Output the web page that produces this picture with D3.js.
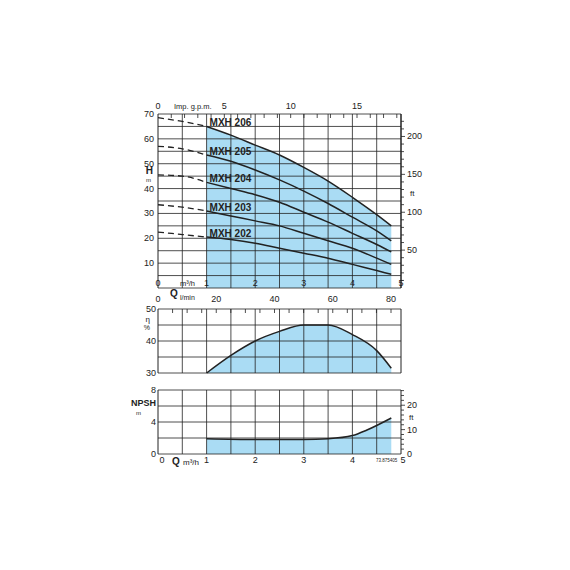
<!DOCTYPE html><html><head><meta charset="utf-8"><script src="https://cdn.jsdelivr.net/npm/d3@7"></script>
<style>body{margin:0;background:#fff}text{font-family:"Liberation Sans",Arial,sans-serif;fill:#222}</style></head><body>
<svg id="c" width="570" height="570"></svg>
<script>
const qPts=[0,0.5,1,1.5,2,2.5,3,3.5,4,4.5,4.8];
const models=["MXH 206","MXH 205","MXH 204","MXH 203","MXH 202"];
const head206=[68.5,67,65,61.5,57.5,53.5,48.5,43,36.5,29.5,25];
const head205=[57,56,53.5,51,47.5,43.5,39,34,28.5,23,19];
const head204=[45.5,45,42.5,40,37.5,34.5,30.5,26.5,22,17.5,14.5];
const head203=[33.5,32.5,31,29,27,25,22,19,16,12,9.5];
const head202=[22.5,21.5,20.5,19.5,18,16,14,12,9.5,7,5.5];
const effQ=[1,1.5,2,2.5,3,3.5,4,4.5,4.8];
const effV=[30,35.5,40,43,45,45,42,37,31.5];
const npshQ=[1,2,3,3.5,4,4.3,4.8];
const npshV=[1.9,1.8,1.8,1.9,2.3,3,4.5];
const qTicks=[1,2,3,4,5];
const gpmTicks=[0,5,10,15];
const lminTicks=[0,20,40,60,80];
const ftTicks=[50,100,150,200];
const npshFtTicks=[0,10,20];

const svg=d3.select("#c");
const x=d3.scaleLinear([0,5],[158,401]);
const yH=d3.scaleLinear([0,70],[288,114]);
const yE=d3.scaleLinear([30,50],[373,309]);
const yN=d3.scaleLinear([0,8],[454,390]);
const fill="#aadcf4",g="#222";
function panel(y,gridStep,lo,hi){
  const grp=svg.append("g");
  for(let v=0;v<=5.001;v+=0.5)grp.append("line").attr("x1",x(v)).attr("x2",x(v)).attr("y1",y(lo)).attr("y2",y(hi)).attr("stroke",g).attr("stroke-width",v==0||v==5?1:0.8);
  for(let v=lo;v<=hi+1e-6;v+=gridStep)grp.append("line").attr("x1",x(0)).attr("x2",x(5)).attr("y1",y(v)).attr("y2",y(v)).attr("stroke",g).attr("stroke-width",0.8);
  return grp;
}
function shade(xs,ys,y,base){
  const a=d3.area().x((d,i)=>x(xs[i])).y0(y(base)).y1((d,i)=>y(ys[i])).curve(d3.curveMonotoneX);
  svg.append("path").attr("d",a(xs)).attr("fill",fill);
}
const i1=qPts.indexOf(1);
shade(qPts.slice(i1),head206.slice(i1),yH,0);
panel(yH,5,0,70);
const heads=[head206,head205,head204,head203,head202];
const line=d3.line().curve(d3.curveMonotoneX);
heads.forEach((h,k)=>{
  const pts=qPts.map((q,i)=>[x(q),yH(h[i])]);
  svg.append("path").attr("d",line(pts.slice(0,i1+1))).attr("fill","none").attr("stroke",g).attr("stroke-width",1.3).attr("stroke-dasharray","6,4");
  svg.append("path").attr("d",line(pts.slice(i1))).attr("fill","none").attr("stroke",g).attr("stroke-width",1.5);
  svg.append("text").attr("x",x(1)+3).attr("y",yH(h[i1])).attr("font-size",10).attr("font-weight","bold").text(models[k]);
});
[10,20,30,40,50,60,70].forEach(v=>svg.append("text").attr("x",154).attr("y",yH(v)+3).attr("text-anchor","end").attr("font-size",9).text(v));
svg.append("text").attr("x",153).attr("y",yH(46.5)+2).attr("text-anchor","end").attr("font-size",10).attr("font-weight","bold").text("H");
svg.append("text").attr("x",151).attr("y",yH(43.6)+2).attr("text-anchor","end").attr("font-size",6).text("m");
const ft=d3.scaleLinear([0,230],[288,288-230*0.3048*2.4857]);
svg.append("line").attr("x1",401).attr("x2",401).attr("y1",114).attr("y2",288).attr("stroke",g);
for(let v=10;v<=220;v+=10)svg.append("line").attr("x1",401).attr("x2",v%50==0?405:404).attr("y1",ft(v)).attr("y2",ft(v)).attr("stroke",g).attr("stroke-width",0.8);
ftTicks.forEach(v=>svg.append("text").attr("x",407).attr("y",ft(v)+3).attr("font-size",9).text(v));
svg.append("text").attr("x",410).attr("y",ft(125)+3).attr("font-size",8).text("ft");
const gpm=d3.scaleLinear([0,15],[158,357]);
for(let v=1;v<=18;v++)svg.append("line").attr("x1",gpm(v)).attr("x2",gpm(v)).attr("y1",114).attr("y2",118).attr("stroke",g).attr("stroke-width",0.8);
gpmTicks.forEach(v=>svg.append("text").attr("x",gpm(v)).attr("y",109).attr("text-anchor","middle").attr("font-size",9).text(v));
svg.append("text").attr("x",174).attr("y",109).attr("font-size",7.5).text("Imp. g.p.m.");
[0,...qTicks].forEach(v=>svg.append("text").attr("x",x(v)).attr("y",286).attr("text-anchor","middle").attr("font-size",9).text(v));
svg.append("text").attr("x",180).attr("y",286).attr("font-size",7.5).text("m³/h");
svg.append("text").attr("x",170).attr("y",297).attr("font-size",10).attr("font-weight","bold").text("Q");
const lm=d3.scaleLinear([0,80],[158,391]);
lminTicks.forEach(v=>svg.append("text").attr("x",lm(v)).attr("y",302).attr("text-anchor","middle").attr("font-size",9).text(v));
svg.append("text").attr("x",180).attr("y",300).attr("font-size",7).text("l/min");
shade(effQ,effV,yE,30);
panel(yE,5,30,50);
for(let v=5;v<=80;v+=5)svg.append("line").attr("x1",lm(v)).attr("x2",lm(v)).attr("y1",309).attr("y2",313).attr("stroke",g).attr("stroke-width",0.8);
svg.append("path").attr("d",line(effQ.map((q,i)=>[x(q),yE(effV[i])]))).attr("fill","none").attr("stroke",g).attr("stroke-width",1.5);
[30,40,50].forEach(v=>svg.append("text").attr("x",156).attr("y",yE(v)+3).attr("text-anchor","end").attr("font-size",9).text(v));
svg.append("text").attr("x",150).attr("y",yE(46)).attr("text-anchor","end").attr("font-size",8).text("η");
svg.append("text").attr("x",150).attr("y",yE(43.5)).attr("text-anchor","end").attr("font-size",7).text("%");
shade(npshQ,npshV,yN,0);
panel(yN,2,0,8);
svg.append("path").attr("d",line(npshQ.map((q,i)=>[x(q),yN(npshV[i])]))).attr("fill","none").attr("stroke",g).attr("stroke-width",1.5);
[0,4,8].forEach(v=>svg.append("text").attr("x",156).attr("y",yN(v)+3).attr("text-anchor","end").attr("font-size",9).text(v));
svg.append("text").attr("x",156).attr("y",yN(6.3)+2).attr("text-anchor","end").attr("font-size",9).attr("font-weight","bold").text("NPSH");
svg.append("text").attr("x",141).attr("y",yN(5.1)+2).attr("text-anchor","end").attr("font-size",6).text("m");
const nft=d3.scaleLinear([0,26],[454,454-26*0.3048*8]);
for(let v=2;v<=26;v+=2)svg.append("line").attr("x1",401).attr("x2",v%10==0?405:404).attr("y1",nft(v)).attr("y2",nft(v)).attr("stroke",g).attr("stroke-width",0.8);
npshFtTicks.forEach(v=>svg.append("text").attr("x",407).attr("y",nft(v)+3).attr("font-size",9).text(v));
svg.append("text").attr("x",409).attr("y",nft(15)+3).attr("font-size",8).text("ft");
[0,...qTicks].forEach(v=>svg.append("text").attr("x",x(v)+(v==0?4:v==5?2:0)).attr("y",463).attr("text-anchor","middle").attr("font-size",9).text(v));
svg.append("text").attr("x",172).attr("y",465).attr("font-size",10).attr("font-weight","bold").text("Q");
svg.append("text").attr("x",183).attr("y",465).attr("font-size",8).text("m³/h");
svg.append("text").attr("x",376).attr("y",462).attr("font-size",4.5).text("73.875405");
</script></body></html>
